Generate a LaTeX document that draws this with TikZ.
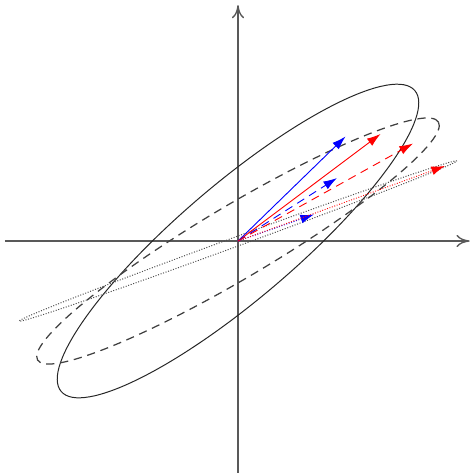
\documentclass[tikz,border=0pt]{standalone}
\usepackage{tikz}
\usetikzlibrary{arrows.meta}
\begin{document}
\begin{tikzpicture}[
    axis/.style={draw=black!65, line width=0.8pt, -{To[length=2.8mm,width=2.6mm]}},
    vec/.style={line width=0.55pt, -{Latex[length=2.9mm,width=1.9mm]}},
    ell/.style={draw=black!85, line width=0.6pt}]
  \useasboundingbox (-5.064,-4.936) rectangle (4.936,5.128);
  \coordinate (O) at (0,0);
  \coordinate (xl) at (-4.96,0); \coordinate (xr) at (4.93,0);
  \coordinate (yb) at (0,-4.936); \coordinate (yt) at (0,5.02);
  \draw[axis] (xl) -- (xr); \draw[axis] (yb) -- (yt);
  % the three ellipses
  \draw[ell, rotate=40.4] (O) ellipse[x radius=4.94, y radius=1.23];
  \draw[ell, black!75, line width=0.75pt, dash pattern=on 5pt off 3.5pt, rotate=30.7] (O) ellipse[x radius=4.96, y radius=0.77];
  \draw[ell, black!70, densely dotted, rotate=20.1] (O) ellipse[x radius=4.96, y radius=0.1];
  % vectors
  \coordinate (b1) at (2.287,2.223); \coordinate (r1) at (3.032,2.277);
  \coordinate (b2) at (2.106,1.340); \coordinate (r2) at (3.723,2.074);
  \coordinate (b3) at (1.617,0.564); \coordinate (r3) at (4.404,1.596);
  \draw[vec, blue] (O) -- (b1); \draw[vec, red] (O) -- (r1);
  \draw[vec, blue, dash pattern=on 5pt off 3.5pt] (O) -- (b2);
  \draw[vec, red, dash pattern=on 5pt off 3.5pt] (O) -- (r2);
  \draw[vec, blue, densely dotted] (O) -- (b3);
  \draw[vec, red, densely dotted] (O) -- (r3);
\end{tikzpicture}
\end{document}
